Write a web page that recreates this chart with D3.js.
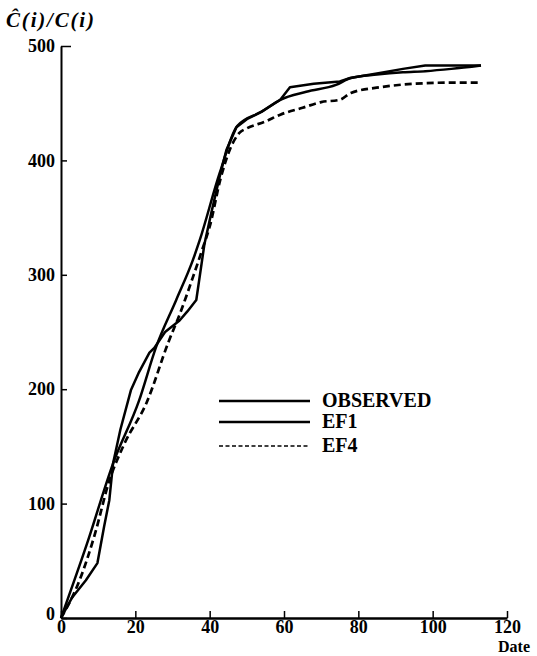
<!DOCTYPE html>
<html><head><meta charset="utf-8">
<script src="https://cdn.jsdelivr.net/npm/d3@7"></script>
<style>body{margin:0;background:#fff}svg{display:block}</style>
</head><body>
<script>
const xTicks = [0, 20, 40, 60, 80, 100, 120];
const yTicks = [0, 100, 200, 300, 400, 500];

const obsX = [0, 3, 6.7, 9.8, 11.6, 13, 14, 16, 18.8, 21, 23.8, 25.1, 28, 31.9, 34, 36.4, 38.6, 40.5, 43, 44.5, 47.2, 50, 54, 59, 61.6, 68, 75, 77.8, 85, 92, 98, 105, 113];
const obsY = [0, 18, 33, 48, 80, 103, 135, 165, 199, 215, 232, 236, 250, 260, 268, 278, 327, 355, 390, 409, 429, 436, 442.6, 453, 464, 467, 469, 472, 476, 480, 483, 483, 483];

const ef1X = [0, 7, 14, 21, 25.6, 31, 35.5, 37.3, 42.7, 47.4, 54, 59, 66, 74, 78, 85, 92, 98, 105, 113];
const ef1Y = [0, 65, 135, 190, 237, 278, 313, 330, 389, 430, 442.6, 453, 460, 466, 472, 475, 477, 478, 480, 483];

const ef4X = [0, 5, 9, 13, 17, 23, 29, 32, 35.5, 38, 40, 43, 45.5, 48, 50, 55, 59, 65, 70, 75, 78, 86, 95, 105, 113];
const ef4Y = [0, 33, 72, 120, 152, 188, 242, 266, 298, 322, 342, 385, 410, 424, 428, 434, 440, 446, 451, 453, 459, 464, 467, 468, 468];

const legendLabels = ["OBSERVED", "EF1", "EF4"];

const W = 537, H = 656;
const svg = d3.select("body").append("svg").attr("width", W).attr("height", H);
const x = d3.scaleLinear().domain([0, 120]).range([61, 507]);
const y = d3.scaleLinear().domain([0, 500]).range([618, 46]);
const font = "'Liberation Serif', 'Times New Roman', serif";

// axes
const xAxis = d3.axisBottom(x).tickValues(xTicks).tickSizeInner(-7).tickSizeOuter(0).tickPadding(2);
const gx = svg.append("g").attr("transform", `translate(0,${y(0)})`).call(xAxis);
gx.select(".domain").attr("stroke-width", 2.5);
gx.selectAll(".tick line").attr("stroke-width", 1.5);
gx.selectAll("text").attr("font-family", font).attr("font-weight", "bold").attr("font-size", 18).attr("fill", "#000");

const yAxis = d3.axisLeft(y).tickValues(yTicks).tickSizeInner(-6).tickSizeOuter(0).tickPadding(6);
const gy = svg.append("g").attr("transform", `translate(${x(0)},0)`).call(yAxis);
gy.select(".domain").attr("stroke-width", 2);
gy.selectAll(".tick line").attr("stroke-width", 1.5);
gy.selectAll(".tick").filter(d => d === 500).select("line").attr("x2", 10);
gy.selectAll("text").attr("font-family", font).attr("font-weight", "bold").attr("font-size", 18).attr("fill", "#000");
gy.selectAll(".tick").filter(d => d === 0).select("text").attr("dy", "0.1em");

// axis titles
svg.append("text").attr("x", 6).attr("y", 27)
  .attr("font-family", font).attr("font-weight", "bold").attr("font-style", "italic")
  .attr("font-size", 21).attr("textLength", 88).attr("lengthAdjust", "spacing")
  .text("Ĉ(i)/C(i)");
svg.append("text").attr("x", 498).attr("y", 651.5)
  .attr("font-family", font).attr("font-weight", "bold").attr("font-size", 16).text("Date");

// curves
const mk = (xs, ys) => xs.map((v, i) => [v, ys[i]]);
const lineLin = d3.line().x(d => x(d[0])).y(d => y(d[1])).curve(d3.curveLinear);
const lineSm = d3.line().x(d => x(d[0])).y(d => y(d[1])).curve(d3.curveMonotoneX);

svg.append("path").attr("d", lineSm(mk(ef4X, ef4Y))).attr("fill", "none")
  .attr("stroke", "#000").attr("stroke-width", 2.7).attr("stroke-dasharray", "7,4");
svg.append("path").attr("d", lineSm(mk(ef1X, ef1Y))).attr("fill", "none")
  .attr("stroke", "#000").attr("stroke-width", 2.5);
svg.append("path").attr("d", lineLin(mk(obsX, obsY))).attr("fill", "none")
  .attr("stroke", "#000").attr("stroke-width", 2.5).attr("stroke-linejoin", "round");

// legend
const legY = [401, 422, 446];
const lg = svg.append("g");
legendLabels.forEach((lab, i) => {
  lg.append("line").attr("x1", 219).attr("x2", 310).attr("y1", legY[i]).attr("y2", legY[i])
    .attr("stroke", "#000").attr("stroke-width", i === 2 ? 1.6 : 2.7)
    .attr("stroke-dasharray", i === 2 ? "4,2.5" : null);
  lg.append("text").attr("x", 322).attr("y", legY[i] + 6)
    .attr("font-family", font).attr("font-weight", "bold").attr("font-size", 20)
    .text(lab);
});
</script>
</body></html>
